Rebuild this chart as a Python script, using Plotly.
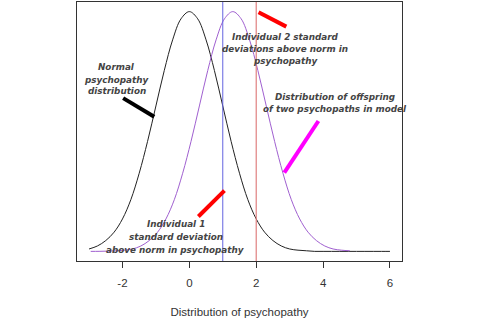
import plotly.graph_objects as go

# Normal psychopathy distribution
normal_x = [-3, -2.75, -2.5, -2.25, -2, -1.75, -1.5, -1.25, -1, -0.75, -0.5, -0.25, 0,
            0.25, 0.5, 0.75, 1, 1.25, 1.5, 1.75, 2, 2.25, 2.5, 2.75, 3, 3.25, 3.5, 3.75,
            4, 4.25, 4.5, 4.75, 5, 5.25, 5.5, 5.75, 6]
normal_y = [0.004, 0.009, 0.018, 0.032, 0.054, 0.086, 0.130, 0.183, 0.242, 0.301, 0.352, 0.387, 0.399,
            0.387, 0.352, 0.301, 0.242, 0.183, 0.130, 0.086, 0.054, 0.032, 0.018, 0.009, 0.004, 0.002, 0.001, 0.0,
            0.0, 0.0, 0.0, 0.0, 0.0, 0.0, 0.0, 0.0, 0.0]

# Offspring distribution
offspring_x = [-2.95, -2.7, -2.45, -2.2, -1.95, -1.7, -1.45, -1.2, -0.95, -0.7, -0.45, -0.2, 0.05,
               0.3, 0.55, 0.8, 1.05, 1.3, 1.55, 1.8, 2.05, 2.3, 2.55, 2.8, 3.05, 3.3, 3.55, 3.8,
               4.05, 4.3, 4.55, 4.8]
offspring_y = [0.0, 0.0001, 0.0004, 0.0009, 0.002, 0.004, 0.009, 0.018, 0.032, 0.054, 0.086, 0.130, 0.183,
               0.242, 0.301, 0.352, 0.387, 0.399, 0.387, 0.352, 0.301, 0.242, 0.183, 0.130, 0.086, 0.054, 0.032, 0.018,
               0.009, 0.004, 0.002, 0.001]

individual_1 = 1
individual_2 = 2
tick_vals = [-2, 0, 2, 4, 6]
x_title = "Distribution of psychopathy"

# label lines: (text, x centre, y of each line)
labels = [
    (["Normal", "psychopathy", "distribution"], -2.17, [0.307, 0.285, 0.267]),
    (["Individual 2 standard", "deviations above norm in", "psychopathy"], 2.865, [0.357, 0.336, 0.316]),
    (["Distribution of offspring", "of two psychopaths in model"], 4.36, [0.257, 0.237]),
    (["Individual 1", "standard deviation", "above norm in psychopathy"], -0.40, [0.0456, 0.0235, 0.0023]),
]
pointers = [
    (-1.98, 0.255, -1.05, 0.224, "black"),
    (2.07, 0.398, 2.90, 0.374, "red"),
    (0.27, 0.058, 1.05, 0.101, "red"),
    (2.84, 0.131, 3.86, 0.217, "magenta"),
]

fig = go.Figure()
fig.add_trace(go.Scatter(x=normal_x, y=normal_y, mode="lines", line=dict(color="#222222", width=1, shape="spline"),
                         hoverinfo="skip"))
fig.add_trace(go.Scatter(x=offspring_x, y=offspring_y, mode="lines", line=dict(color="#a060d0", width=1, shape="spline"),
                         hoverinfo="skip"))

fig.add_vline(x=individual_1, line=dict(color="#6464e0", width=1))
fig.add_vline(x=individual_2, line=dict(color="#e08080", width=1.2))

for x0, y0, x1, y1, c in pointers:
    fig.add_shape(type="line", x0=x0, y0=y0, x1=x1, y1=y1, xref="x", yref="y",
                  line=dict(color=c, width=4))

for lines, x, ys in labels:
    for text, y in zip(lines, ys):
        fig.add_annotation(x=x, y=y, text="<b><i>" + text + "</i></b>", showarrow=False, xref="x", yref="y",
                           font=dict(family="DejaVu Sans", size=8.8, color="#444444"),
                           align="center")

fig.update_layout(
    width=480, height=320,
    margin=dict(l=77, r=78, t=2, b=59),
    paper_bgcolor="white", plot_bgcolor="white",
    showlegend=False,
    xaxis=dict(range=[-3.36, 6.36], showgrid=False, zeroline=False,
               showline=True, mirror=True, linecolor="#333333", linewidth=1,
               ticks="outside", ticklen=6, tickcolor="#333333",
               tickvals=tick_vals, ticktext=[str(v) for v in tick_vals],
               ticklabelstandoff=5,
               tickfont=dict(family="Liberation Sans", size=11.5, color="#333333"),
               title=dict(text=x_title, standoff=20,
                          font=dict(family="Liberation Sans", size=11.5, color="#333333"))),
    yaxis=dict(range=[-0.016, 0.415], showgrid=False, zeroline=False,
               showline=True, mirror=True, linecolor="#333333", linewidth=1,
               showticklabels=False, ticks=""),
)

fig.write_html("out.html")
